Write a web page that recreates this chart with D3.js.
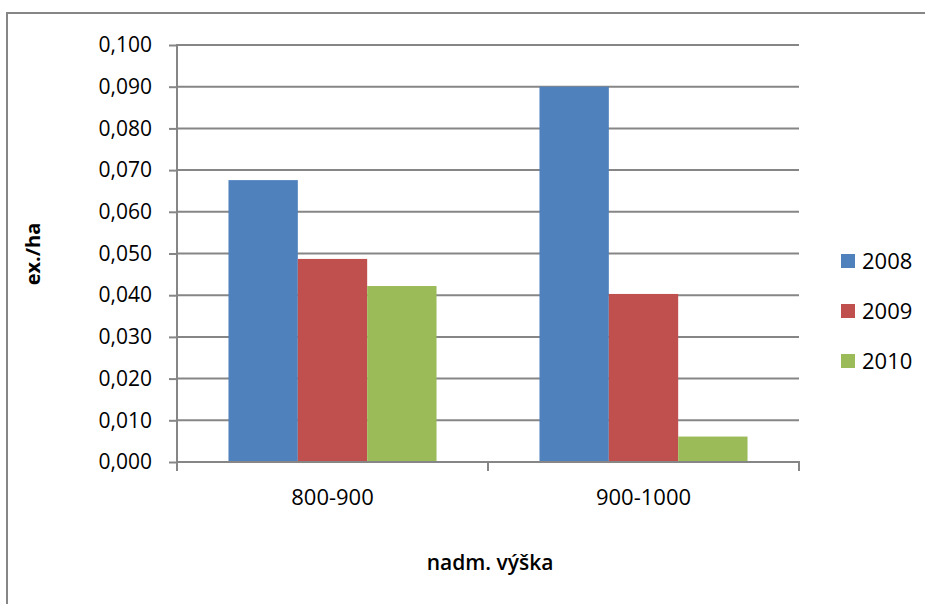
<!DOCTYPE html>
<html>
<head>
<meta charset="utf-8">
<script src="https://cdn.jsdelivr.net/npm/d3@7"></script>
<style>
  html, body { margin: 0; padding: 0; background: #fff; }
  svg text { font-family: "Open Sans", "Noto Sans", sans-serif; fill: #000; }
</style>
</head>
<body>
<svg id="chart" width="925" height="604"></svg>
<script>
// Altitude bands, years and densities (ex./ha)
const categories = ["800-900", "900-1000"];
const years = ["2008", "2009", "2010"];
const values2008 = [0.0676, 0.0900];
const values2009 = [0.0487, 0.0403];
const values2010 = [0.0422, 0.0061];
const yTicks = [0, 0.01, 0.02, 0.03, 0.04, 0.05, 0.06, 0.07, 0.08, 0.09, 0.1];
const colors = ["#4F81BD", "#C0504D", "#9BBB59"];

const series = [values2008, values2009, values2010];
const svg = d3.select("#chart");
const grid = "#868686";

// outer chart frame
svg.append("rect")
  .attr("x", 7).attr("y", 13).attr("width", 1000).attr("height", 700)
  .attr("fill", "none").attr("stroke", grid).attr("stroke-width", 2);

const plot = { left: 177, right: 799, top: 45, bottom: 462 };

const y = d3.scaleLinear().domain([0, 0.1]).range([plot.bottom, plot.top]);
const x0 = d3.scaleBand().domain(categories)
  .range([plot.left, plot.right]).paddingInner(0.331).paddingOuter(0.1655);
const x1 = d3.scaleBand().domain(years).range([0, x0.bandwidth()]);

const fmt = v => d3.format(".3f")(v).replace(".", ",");

// horizontal gridlines
svg.append("g").selectAll("line").data(yTicks.slice(1)).join("line")
  .attr("x1", plot.left).attr("x2", plot.right)
  .attr("y1", d => y(d)).attr("y2", d => y(d))
  .attr("stroke", grid).attr("stroke-width", 2);

// y axis
const yAxis = svg.append("g").attr("transform", `translate(${plot.left},0)`)
  .call(d3.axisLeft(y).tickValues(yTicks).tickFormat(fmt).tickSize(8).tickPadding(17));
yAxis.select(".domain").attr("stroke", grid).attr("stroke-width", 2).attr("d", `M0,${plot.top - 1}V${plot.bottom + 1}`);
yAxis.selectAll(".tick line").attr("stroke", grid).attr("stroke-width", 2);
yAxis.selectAll(".tick text").attr("font-size", 21).attr("font-family", "Open Sans").attr("fill", "#000");

// bars
const groups = svg.append("g").selectAll("g").data(categories).join("g")
  .attr("transform", d => `translate(${x0(d)},0)`);
groups.selectAll("rect")
  .data((c, i) => years.map((yr, k) => ({ yr, v: series[k][i], k })))
  .join("rect")
  .attr("x", d => x1(d.yr))
  .attr("width", x1.bandwidth())
  .attr("y", d => y(d.v))
  .attr("height", d => y(0) - y(d.v))
  .attr("fill", d => colors[d.k]);

// x axis with boundary ticks between categories
const xAxisG = svg.append("g").attr("transform", `translate(0,${plot.bottom})`);
xAxisG.append("line").attr("x1", plot.left - 1).attr("x2", plot.right + 1)
  .attr("stroke", grid).attr("stroke-width", 2);
const boundaries = [plot.left, ...categories.slice(1).map(c => x0(c) - x0.step() * x0.paddingInner() / 2), plot.right];
xAxisG.selectAll("line.b").data(boundaries).join("line").attr("class", "b")
  .attr("x1", d => d).attr("x2", d => d).attr("y1", 0).attr("y2", 9)
  .attr("stroke", grid).attr("stroke-width", 2);
xAxisG.selectAll("text").data(categories).join("text")
  .attr("x", d => x0(d) + x0.bandwidth() / 2)
  .attr("y", 43)
  .attr("text-anchor", "middle")
  .attr("font-size", 22)
  .text(d => d);

// axis titles
svg.append("text")
  .attr("x", 490).attr("y", 570)
  .attr("text-anchor", "middle").attr("font-size", 21).attr("font-weight", 600)
  .text("nadm. výška");
svg.append("text")
  .attr("transform", "translate(40,254) rotate(-90)")
  .attr("text-anchor", "middle").attr("font-size", 20).attr("font-weight", 700)
  .text("ex./ha");

// legend
const legend = svg.append("g").selectAll("g").data(years).join("g")
  .attr("transform", (d, i) => `translate(841,${261 + i * 50})`);
legend.append("rect").attr("x", 0).attr("y", -7).attr("width", 14).attr("height", 14)
  .attr("fill", (d, i) => colors[i]);
legend.append("text").attr("x", 21).attr("y", 8).attr("font-size", 22).text(d => d);
</script>
</body>
</html>
